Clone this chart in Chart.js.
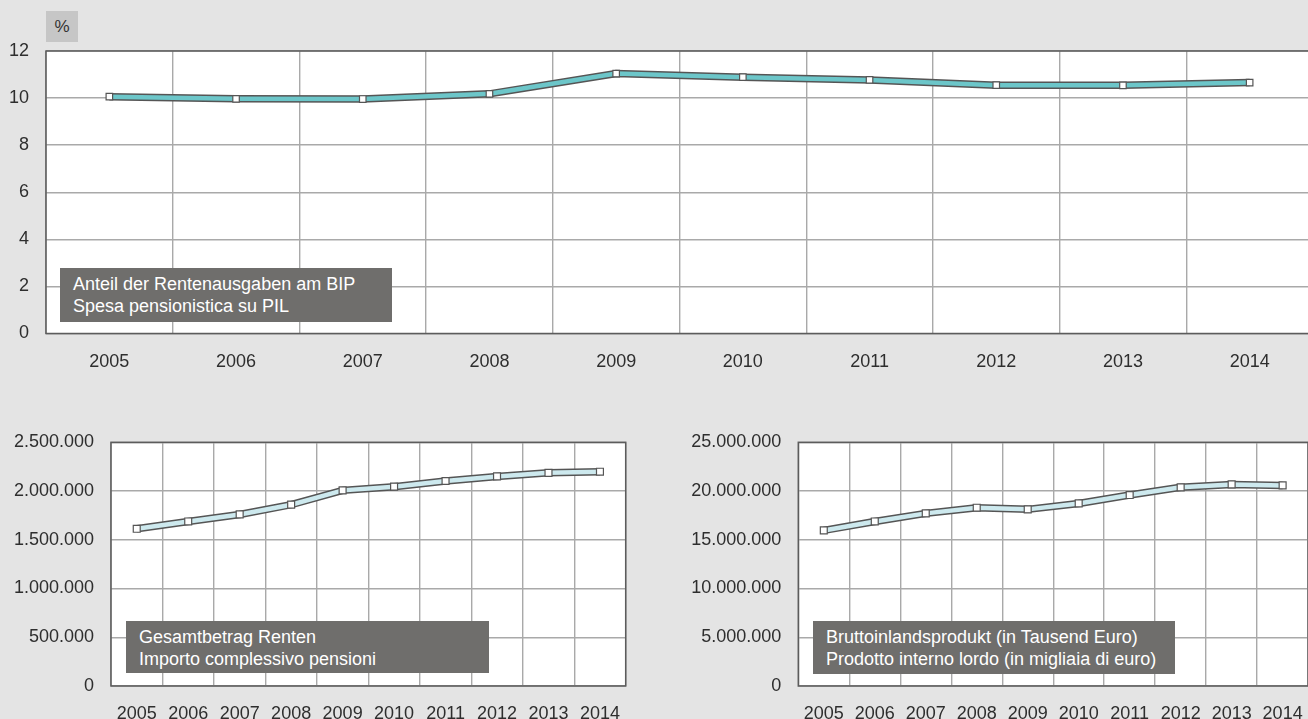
<!DOCTYPE html>
<html>
<head>
<meta charset="utf-8">
<script src="https://cdn.jsdelivr.net/npm/chart.js@4/dist/chart.umd.min.js"></script>
<style>
    html, body { margin: 0; padding: 0; }
    body { width: 1308px; height: 719px; overflow: hidden; background: #e4e4e4; position: relative;
           font-family: "Liberation Sans", Arial, sans-serif; }
    .wrap { position: absolute; }
    .box { position: absolute; background: #6f6e6c; color: #fff; font-size: 18px; line-height: 21.5px;
           padding: 6px 0 0 13px; box-sizing: border-box; white-space: nowrap; }
    .unit { position: absolute; left: 46px; top: 11px; width: 32px; height: 31px; background: #c6c6c6;
            color: #333; font-size: 17px; line-height: 31px; text-align: center; }
</style>
</head>
<body>
<div class="unit">%</div>
<div class="wrap" style="left:0;top:0;width:1320px;height:380px"><canvas id="shareChart"></canvas></div>
<div class="wrap" style="left:0;top:400px;width:650px;height:330px"><canvas id="pensionChart"></canvas></div>
<div class="wrap" style="left:660px;top:400px;width:660px;height:330px"><canvas id="gdpChart"></canvas></div>
<div class="box" style="left:60px;top:268px;width:332px;height:54px">Anteil der Rentenausgaben am BIP<br>Spesa pensionistica su PIL</div>
<div class="box" style="left:126px;top:621px;width:363px;height:52px">Gesamtbetrag Renten<br>Importo complessivo pensioni</div>
<div class="box" style="left:813px;top:621px;width:362px;height:53px">Bruttoinlandsprodukt (in Tausend Euro)<br>Prodotto interno lordo (in migliaia di euro)</div>
<script>
(function () {
    const years = ['2005', '2006', '2007', '2008', '2009', '2010', '2011', '2012', '2013', '2014'];
    // Anteil der Rentenausgaben am BIP (%)
    const shareGdp = [10.06, 9.97, 9.96, 10.18, 11.04, 10.89, 10.77, 10.55, 10.54, 10.66];
    // Gesamtbetrag Renten
    const pensionTotal = [1613000, 1688000, 1760000, 1860000, 2007000, 2045000, 2103000, 2150000, 2187000, 2198000];
    // Bruttoinlandsprodukt (Tausend Euro)
    const gdp = [15960000, 16880000, 17710000, 18290000, 18120000, 18730000, 19590000, 20380000, 20680000, 20580000];

    Chart.defaults.font.family = '"Liberation Sans", Arial, sans-serif';
    Chart.defaults.font.size = 18;
    Chart.defaults.color = '#2e2e2e';

    const dots = v => String(v).replace(/\B(?=(\d{3})+(?!\d))/g, '.');

    // white plot area + dark frame
    const plotFrame = {
        id: 'plotFrame',
        beforeDraw(chart) {
            const a = chart.chartArea, ctx = chart.ctx;
            ctx.save();
            ctx.fillStyle = '#fff';
            ctx.fillRect(a.left, a.top, a.right - a.left, a.bottom - a.top);
            ctx.restore();
        },
        beforeDatasetsDraw(chart) {
            const a = chart.chartArea, ctx = chart.ctx;
            ctx.save();
            ctx.strokeStyle = '#5c5c5c';
            ctx.lineWidth = 1.5;
            ctx.strokeRect(a.left, a.top, a.right - a.left, a.bottom - a.top);
            ctx.restore();
        }
    };

    function makeChart(id, values, fillColor, box, yMax, yStep, pointR) {
        new Chart(document.getElementById(id), {
            type: 'line',
            data: {
                labels: years,
                datasets: [{
                    data: values,
                    borderColor: fillColor,
                    borderWidth: 4.5,
                    pointStyle: 'rect',
                    pointRadius: pointR,
                    pointBackgroundColor: '#fff',
                    pointBorderColor: '#555',
                    pointBorderWidth: 1.2,
                    tension: 0
                }, {
                    data: values,
                    borderColor: '#555',
                    borderWidth: 7.5,
                    pointRadius: 0,
                    tension: 0
                }]
            },
            options: {
                responsive: true,
                maintainAspectRatio: false,
                animation: false,
                layout: { padding: { top: box.top, right: box.right, left: 0, bottom: 0 } },
                plugins: { legend: { display: false }, tooltip: { enabled: false } },
                scales: {
                    x: {
                        offset: true,
                        grid: { offset: true, color: '#a9a9a9', lineWidth: 1.4, drawTicks: false, tickLength: 0 },
                        border: { display: false },
                        ticks: { padding: box.xPad, maxRotation: 0, autoSkip: false },
                        afterFit(s) { s.height = box.xHeight; }
                    },
                    y: {
                        min: 0,
                        max: yMax,
                        grid: { color: '#a9a9a9', lineWidth: 1.4, drawTicks: false, tickLength: 0 },
                        border: { display: false },
                        ticks: { stepSize: yStep, padding: 17, callback: v => dots(v) },
                        afterFit(s) { s.width = box.left; }
                    }
                }
            },
            plugins: [plotFrame]
        });
    }

    // Spesa pensionistica su PIL (line)
    makeChart('shareChart', shareGdp, '#6cc6c9', { top: 51, right: 7, left: 46, xHeight: 46.5, xPad: 18 }, 12, 2, 4.6);
    // Importo complessivo pensioni (line)
    makeChart('pensionChart', pensionTotal, '#cde9ee', { top: 42.3, right: 24.3, left: 111, xHeight: 44, xPad: 17 }, 2500000, 500000, 4.9);
    // Prodotto interno lordo (line)
    makeChart('gdpChart', gdp, '#cde9ee', { top: 42.3, right: 7, left: 138.3, xHeight: 44, xPad: 17 }, 25000000, 5000000, 4.9);
})();
</script>
</body>
</html>
